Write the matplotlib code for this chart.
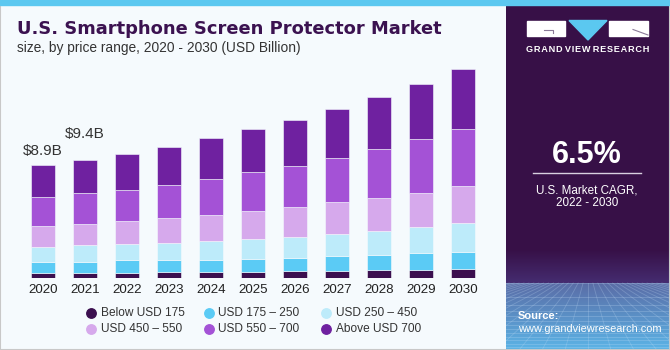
import matplotlib.pyplot as plt
import numpy as np
from matplotlib.patches import Rectangle
from matplotlib.lines import Line2D

years = ['2020', '2021', '2022', '2023', '2024', '2025', '2026', '2027', '2028', '2029', '2030']
segments = ['Below USD 175', 'USD 175 \u2013 250', 'USD 250 \u2013 450',
            'USD 450 \u2013 550', 'USD 550 \u2013 700', 'Above USD 700']
below_175 = [0.40, 0.40, 0.42, 0.45, 0.50, 0.50, 0.55, 0.58, 0.61, 0.66, 0.71]
usd_175_250 = [0.84, 0.87, 0.97, 1.00, 0.95, 1.00, 1.03, 1.13, 1.21, 1.32, 1.37]
usd_250_450 = [1.21, 1.32, 1.26, 1.34, 1.45, 1.58, 1.69, 1.79, 1.92, 2.03, 2.24]
usd_450_550 = [1.63, 1.69, 1.84, 1.95, 2.08, 2.21, 2.35, 2.50, 2.58, 2.74, 2.95]
usd_550_700 = [2.29, 2.42, 2.50, 2.63, 2.87, 3.11, 3.21, 3.48, 3.90, 4.22, 4.53]
above_700 = [2.53, 2.66, 2.79, 3.00, 3.21, 3.37, 3.64, 3.90, 4.08, 4.37, 4.72]
colors = ['#3b0f4f', '#5bcbf5', '#bdebfa', '#d6a9ec', '#a452d6', '#6f21a0']
labels = {0: '$8.9B', 1: '$9.4B'}
label_gap = {0: 0.55, 1: 1.45}   # the 2021 label sits higher in the original

series = [below_175, usd_175_250, usd_250_450, usd_450_550, usd_550_700, above_700]

W, H = 670, 350
fig = plt.figure(figsize=(W / 100, H / 100), dpi=100)
fig.patch.set_facecolor('#f5fafd')
body = ['Liberation Sans', 'DejaVu Sans']

# borders and top strip
fig.add_artist(Rectangle((0, 0), 1, 1, transform=fig.transFigure, fill=False,
                         edgecolor='#c8c8c8', linewidth=1.5))
fig.add_artist(Rectangle((0, 1 - 5 / H), 1, 5 / H, transform=fig.transFigure,
                         color='#5cc8f0', zorder=5))

# right panel: purple, fading into a blue grid floor at the bottom
pan = fig.add_axes([506 / W, 0, 164 / W, 1 - 5 / H])
lx = lambda px: (px - 506) / 164
ly = lambda py: 1 - (py - 5) / (H - 5)
n = 345
grad = np.zeros((n, 1, 3))
purple = np.array([0x37, 0x10, 0x47]) / 255
mid = np.array([0x45, 0x2c, 0x70]) / 255
floor_top = np.array([0x5a, 0x6c, 0xa6]) / 255
floor_bot = np.array([0x5c, 0xb4, 0xe6]) / 255
for i in range(n):
    py = 350 - i * 345 / (n - 1)   # pixel row from top
    if py < 250:
        c = purple
    elif py < 283:
        f = (py - 250) / 33
        c = purple * (1 - f) + mid * f
    else:
        f = (py - 283) / 67
        c = floor_top * (1 - f) + floor_bot * f
    grad[i, 0] = c
pan.imshow(grad, aspect='auto', origin='lower', extent=[0, 1, 0, 1])
hy = ly(283)
for k in range(14):
    yy = hy * (1 - (k / 13) ** 0.6)
    pan.plot([0, 1], [yy, yy], color='#c8e0f8', alpha=0.28, lw=0.6)
for k in range(-10, 22):
    pan.plot([0.5 + (k - 6) * 0.03, 0.5 + (k - 6) * 0.14], [hy, 0], color='#c8e0f8', alpha=0.25, lw=0.6)
pan.set_xlim(0, 1)
pan.set_ylim(0, 1)
pan.axis('off')

# logo
pan.add_patch(Rectangle((lx(527), ly(35.7)), lx(565) - lx(527), ly(21) - ly(35.7), color='white'))
pan.plot([lx(544), lx(553), lx(553)], [ly(30), ly(30), ly(33)], color='#8a7a98', lw=0.8)
pan.fill([lx(569), lx(607), lx(588)], [ly(20.5), ly(20.5), ly(40)], color='#5bc8f0')
pan.add_patch(Rectangle((lx(609), ly(35.7)), lx(648) - lx(609), ly(21) - ly(35.7), color='white'))
pan.plot([lx(633), lx(648)], [ly(29.5), ly(35)], color='#8a7a98', lw=0.8)
pan.text(lx(587.5), ly(49.5), 'G R A N D   V I E W   R E S E A R C H'.replace(' ', '\u200a'),
         color='white', fontsize=6.6, fontweight='bold', ha='center', va='center', family=body)
pan.text(lx(587), ly(155), '6.5%', color='white', fontsize=22, fontweight='bold',
         ha='center', va='center', family=body)
pan.plot([lx(533), lx(641)], [ly(173), ly(173)], color='#d8d0e0', lw=1)
pan.text(lx(587), ly(190), 'U.S. Market CAGR,', color='white', fontsize=8.4,
         ha='center', va='center', family=body)
pan.text(lx(587), ly(202.5), '2022 - 2030', color='white', fontsize=8.4,
         ha='center', va='center', family=body)
pan.text(lx(518), ly(316), 'Source:', color='white', fontsize=8, fontweight='bold',
         ha='left', va='center', family=body)
pan.text(lx(518), ly(329), 'www.grandviewresearch.com', color='white', fontsize=7.9,
         ha='left', va='center', family=body)

# title
fig.text(17 / W, 1 - 29 / H, 'U.S. Smartphone Screen Protector Market', fontsize=12.9,
         fontweight='bold', color='#3b1250', va='center', ha='left', family=['DejaVu Sans'])
fig.text(17 / W, 1 - 48 / H, 'size, by price range, 2020 - 2030 (USD Billion)', fontsize=9.9,
         color='#333333', va='center', ha='left', family=body)

# bars
ax = fig.add_axes([22 / W, 72 / H, 462 / W, 218 / H])
ax.set_facecolor('none')
x = np.arange(len(years))
bottom = np.zeros(len(years))
for vals, c, name in zip(series, colors, segments):
    ax.bar(x, vals, 0.58, bottom=bottom, color=c, edgecolor='#f5fafd', linewidth=0.4, label=name)
    bottom += np.array(vals)
for i, t in labels.items():
    ax.text(x[i], bottom[i] + label_gap[i], t, ha='center', va='bottom', fontsize=11,
            color='#333333', family=body)
ax.set_xlim(-0.5, 10.5)
ax.set_ylim(0, 218 / 12.65)
ax.set_xticks(x)
ax.set_xticklabels(years, fontsize=9.6, color='#222222', family=body)
ax.tick_params(axis='x', length=0, pad=4)
ax.set_yticks([])
for s in ax.spines.values():
    s.set_visible(False)

# legend, row-wise: 3 per row
for i, (name, c) in enumerate(zip(segments, colors)):
    row, col = divmod(i, 3)
    px, py = 91 + 117.5 * col, 312.5 + 16.5 * row
    fig.add_artist(Line2D([px / W], [1 - py / H], transform=fig.transFigure, marker='o',
                          markersize=6.8, color=c, linestyle='none'))
    fig.text((px + 10) / W, 1 - py / H, name, fontsize=8.6, color='#333333',
             va='center', ha='left', family=body)

fig.savefig('out.png', dpi=100, facecolor=fig.get_facecolor())
